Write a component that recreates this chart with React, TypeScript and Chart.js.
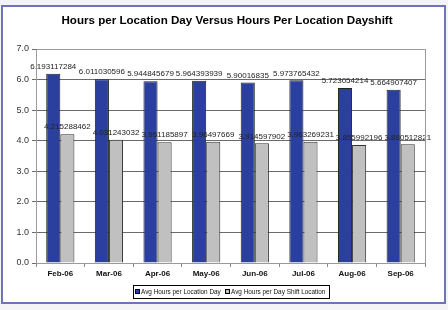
import React, { useEffect, useRef } from "react";
import { Chart, registerables } from "chart.js";

Chart.register(...registerables);

const TITLE = "Hours per Location Day Versus Hours Per Location Dayshift";
const categories = ["Feb-06", "Mar-06", "Apr-06", "May-06", "Jun-06", "Jul-06", "Aug-06", "Sep-06"];
const seriesNames = ["Avg Hours per Location Day", "Avg Hours per Day Shift Location"];
const locationDay = [6.193117284, 6.011030596, 5.944845679, 5.964393939, 5.90016835, 5.973765432, 5.723054214, 5.664907407];
const dayShift = [4.215288462, 4.031243032, 3.951185897, 3.96497669, 3.914597902, 3.963269231, 3.855992196, 3.880512821];
const labelDay = ["6.193117284", "6.011030596", "5.944845679", "5.964393939", "5.90016835", "5.973765432", "5.723054214", "5.664907407"];
const labelShift = ["4.215288462", "4.031243032", "3.951185897", "3.96497669", "3.914597902", "3.963269231", "3.855992196", "3.880512821"];
const yTicks = [0, 1, 2, 3, 4, 5, 6, 7];

const BLUE = "#2b3f9e";
const GRAY = "#c0c0c0";
const FONT = "Liberation Sans, Arial, sans-serif";

export default function App() {
  const ref = useRef<HTMLCanvasElement | null>(null);
  useEffect(() => {
    document.body.style.margin = "0";
    const canvas = ref.current!;
    const labelsArr = [labelDay, labelShift];

    const decor = {
      id: "decor",
      beforeDraw(chart: any) {
        const ctx = chart.ctx;
        ctx.save();
        ctx.fillStyle = "#f4f4f6";
        ctx.fillRect(0, 0, chart.width, chart.height);
        ctx.fillStyle = "#ffffff";
        ctx.fillRect(2, 6, 443, 297);
        ctx.strokeStyle = "#6f74ba";
        ctx.lineWidth = 2;
        ctx.strokeRect(2, 6, 443, 297);
        ctx.restore();
      },
      afterDraw(chart: any) {
        const ctx = chart.ctx;
        const a = chart.chartArea;
        ctx.save();
        // plot border
        ctx.strokeStyle = "#9a9a9a";
        ctx.lineWidth = 1;
        ctx.strokeRect(Math.round(a.left) + 0.5, Math.round(a.top) + 0.5, Math.round(a.right - a.left), Math.round(a.bottom - a.top));
        // title
        ctx.fillStyle = "#000";
        ctx.font = `bold 11.6px ${FONT}`;
        ctx.textAlign = "center";
        ctx.textBaseline = "middle";
        ctx.fillText(TITLE, 227, 21);
        // legend
        const lx = 133, ly = 285, lw = 196, lh = 13;
        ctx.fillStyle = "#fff";
        ctx.fillRect(lx, ly, lw, lh);
        ctx.strokeStyle = "#000";
        ctx.strokeRect(lx + 0.5, ly + 0.5, lw, lh);
        ctx.font = `6.4px ${FONT}`;
        ctx.textAlign = "left";
        ctx.textBaseline = "middle";
        const items = [
          { x: 135, c: BLUE, t: seriesNames[0] },
          { x: 225, c: GRAY, t: seriesNames[1] },
        ];
        for (const it of items) {
          ctx.fillStyle = it.c;
          ctx.fillRect(it.x, ly + 4, 5, 5);
          ctx.strokeStyle = "#000";
          ctx.strokeRect(it.x + 0.5, ly + 4.5, 4, 4);
          ctx.fillStyle = "#111";
          ctx.fillText(it.t, it.x + 6, ly + lh / 2 + 1);
        }
        ctx.restore();
      },
      afterDatasetsDraw(chart: any) {
        const ctx = chart.ctx;
        ctx.save();
        ctx.font = `8px ${FONT}`;
        ctx.fillStyle = "#222";
        ctx.textAlign = "center";
        ctx.textBaseline = "bottom";
        chart.data.datasets.forEach((ds: any, di: number) => {
          const meta = chart.getDatasetMeta(di);
          meta.data.forEach((el: any, i: number) => {
            ctx.fillText(labelsArr[di][i], el.x, el.y - 3);
          });
        });
        ctx.restore();
      },
    };

    const chart = new Chart(canvas, {
      type: "bar",
      data: {
        labels: categories,
        datasets: [
          { label: seriesNames[0], data: locationDay, backgroundColor: BLUE, borderColor: "#222", borderWidth: 1 },
          { label: seriesNames[1], data: dayShift, backgroundColor: GRAY, borderColor: "#333", borderWidth: 1 },
        ],
      },
      options: {
        responsive: false,
        animation: false,
        layout: { padding: { top: 49, right: 23, left: 0, bottom: 0 } },
        plugins: { legend: { display: false }, title: { display: false }, tooltip: { enabled: false } },
        datasets: { bar: { categoryPercentage: 0.58, barPercentage: 1 } },
        scales: {
          x: {
            grid: { drawOnChartArea: false, drawTicks: true, tickLength: 4, color: "#888", offset: true },
            border: { color: "#777" },
            ticks: { font: { family: FONT, size: 8, weight: "bold" }, color: "#111", padding: 2 },
            afterFit(scale: any) { scale.height = 47; },
          },
          y: {
            min: 0,
            max: 7,
            afterBuildTicks(scale: any) { scale.ticks = yTicks.map((v) => ({ value: v })); },
            grid: { color: "#6a6a6a", tickLength: 4 },
            border: { color: "#777" },
            ticks: { font: { family: FONT, size: 9 }, color: "#333", padding: 3, callback: (v: any) => Number(v).toFixed(1) },
            afterFit(scale: any) { scale.width = 36; },
          },
        },
      },
      plugins: [decor],
    });
    return () => chart.destroy();
  }, []);
  return (
    <div style={{ position: "fixed", left: 0, top: 0, width: 448, height: 310 }}>
      <canvas ref={ref} width={448} height={310} style={{ width: 448, height: 310, display: "block" }} />
    </div>
  );
}
